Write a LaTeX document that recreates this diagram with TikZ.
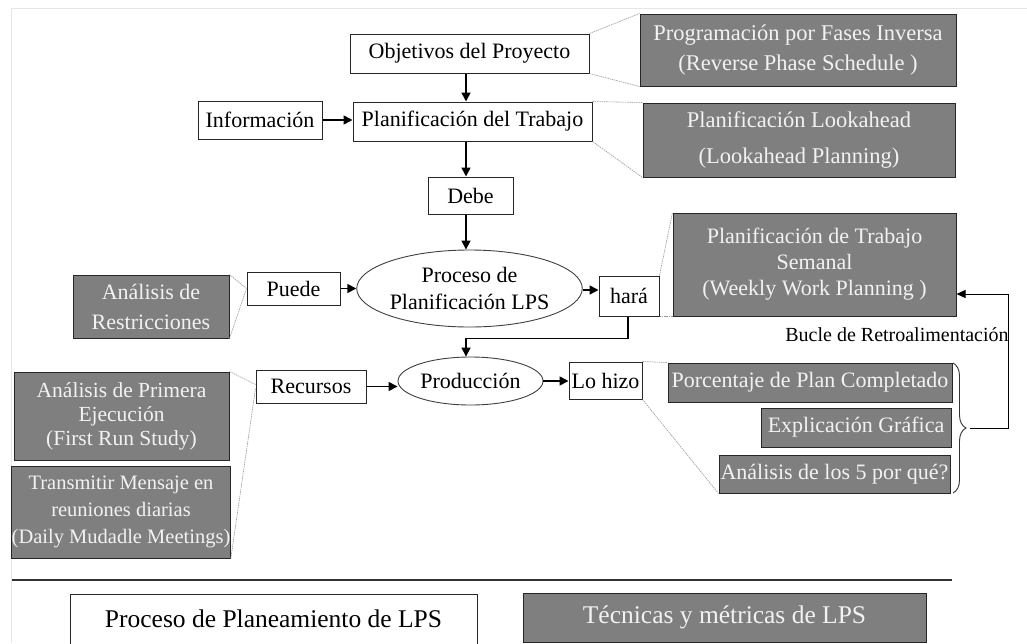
\documentclass[tikz,border=0pt]{standalone}
\usepackage{fontspec}
\setmainfont{Liberation Serif}
\usetikzlibrary{arrows.meta,shapes.geometric,decorations.pathreplacing}
\definecolor{boxgray}{HTML}{7F7F7F}
\definecolor{boxline}{HTML}{262626}
\definecolor{lighttext}{HTML}{F2F2F2}
\definecolor{linkgray}{HTML}{9A9A9A}
\definecolor{framegray}{HTML}{E6E6E6}
\begin{document}
\begin{tikzpicture}[x=1pt,y=-1pt,
  wbox/.style={draw=boxline, line width=1pt, fill=white, rectangle, inner sep=0pt,
    align=center, text=black, font=\fontsize{22}{26}\selectfont},
  gbox/.style={draw=boxline, line width=1pt, fill=boxgray, rectangle, inner sep=0pt,
    align=center, text=lighttext, font=\fontsize{22}{27}\selectfont},
  oval/.style={draw=black!75, line width=0.9pt, fill=white, ellipse, inner sep=0pt,
    align=center, font=\fontsize{22}{27}\selectfont},
  flow/.style={line width=1.6pt, -{Triangle[length=9pt,width=9pt]}},
  loop/.style={line width=1pt, -{Triangle[length=9pt,width=8pt]}},
  link/.style={draw=linkgray, line width=0.6pt, dash pattern=on 1.5pt off 0.8pt},
  wsize/.style 2 args={minimum width=#1pt, minimum height=#2pt}]

\useasboundingbox (0,0) rectangle (1027,643);
\fill[white] (0,0) rectangle (1027,643);
% faint page frame
\draw[framegray, line width=1pt] (11,643) -- (11,8) -- (1027,8);

% ---- planning process (white boxes and ovals)
\node[wbox, wsize={239}{39}] (obj) at (469.5,53.5) {Objetivos del Proyecto};
\node[wbox, wsize={124}{38}] (info) at (260,120) {Información};
\node[wbox, wsize={239}{39}] (plan) at (472.5,121.5) {Planificación del Trabajo};
\node[wbox, wsize={85}{37}] (debe) at (470.5,195.5) {Debe};
\node[oval, wsize={199}{77}] (proc) at (469.5,288.5) {Proceso de\\Planificación LPS};
\node[wbox, wsize={93}{33}] (puede) at (293.5,288.5) {Puede};
\node[wbox, wsize={60}{40}] (hara) at (629,296) {hará};
\node[oval, wsize={145}{48}] (prod) at (470.5,381) {Producción};
\node[wbox, wsize={110}{33}] (rec) at (311,386.5) {Recursos};
\node[wbox, wsize={73}{37}] (hizo) at (605.5,380.5) {Lo hizo};

% ---- techniques and metrics (grey boxes)
\node[gbox, wsize={316}{72}, font=\fontsize{22.5}{30}\selectfont] (prog) at (798,50)
  {Programación por Fases Inversa\\(Reverse Phase Schedule )};
\node[gbox, wsize={312}{74}, font=\fontsize{22.5}{36}\selectfont] (look) at (799,140)
  {Planificación Lookahead\\(Lookahead Planning)};
\node[gbox, wsize={283}{103}, font=\fontsize{22}{26}\selectfont] (sem) at (814.5,264.5)
  {Planificación de Trabajo\\Semanal\\(Weekly Work Planning )};
\node[gbox, wsize={156}{63}, font=\fontsize{22}{30}\selectfont] (restr) at (151,306.5)
  {Análisis de\\Restricciones};
\node[gbox, wsize={215}{88}, font=\fontsize{21.5}{24}\selectfont] (first) at (121.5,416)
  {Análisis de Primera\\Ejecución\\(First Run Study)};
\node[gbox, wsize={214}{92}, font=\fontsize{20.5}{27}\selectfont] (trans) at (121,512)
  {Transmitir Mensaje en\\reuniones diarias\\(Daily Mudadle Meetings)};
\node[gbox, wsize={284}{39}] (porc) at (810,382.5) {Porcentaje de Plan Completado};
\node[gbox, wsize={190}{39}] (expl) at (856,427.5) {Explicación Gráfica};
\node[gbox, wsize={231}{38}] (cinco) at (834.5,474) {Análisis de los 5 por qué?};

% ---- main flow
\draw[flow] ([xshift=-3.5pt]obj.south) -- ([xshift=-3.5pt]obj.south |- plan.north);
\draw[flow] (info.east) -- (info.east -| plan.west);
\draw[flow] ([xshift=-4.5pt]debe.north |- plan.south) -- ([xshift=-4.5pt]debe.north);
\draw[flow] ([xshift=-4.5pt]debe.south) -- ([xshift=-4.5pt]debe.south |- proc.north);
\draw[flow] (puede.east) -- (puede.east -| proc.west);
\draw[flow] ([yshift=-1.5pt]proc.east) -- ([yshift=-1.5pt]proc.east -| hara.west);
\draw[flow] ([xshift=-1pt]hara.south) -- ++(0,22) -| ([xshift=-4.5pt]prod.north);
\draw[flow] (rec.east) -- (rec.east -| prod.west);
\draw[flow] (prod.east) -- (prod.east -| hizo.west);

% ---- links from the process steps to their techniques
\draw[link] (obj.north east) -- (prog.north west);
\draw[link] (obj.south east) -- (prog.south west);
\draw[link] (plan.north east) -- (look.north west);
\draw[link] (plan.south east) -- (look.south west);
\draw[link] (hara.north east) -- (sem.north west);
\draw[link] (hara.south east) -- (sem.south west);
\draw[link] (restr.north east) -- (puede.west);
\draw[link] (restr.south east) -- (puede.west);
\draw[link] (first.north east) -- ([yshift=2pt]rec.west);
\draw[link] (trans.south east) -- ([yshift=-2pt]rec.west);
\draw[link] (hizo.north east) -- (porc.north west);
\draw[link] (hizo.south east) -- (cinco.south west);

% ---- feedback loop
\coordinate (bracetop) at (953,363);
\coordinate (bracebot) at (953,493);
\draw[black!80, line width=0.9pt, decorate, decoration={brace, amplitude=13pt}]
  (bracetop) -- (bracebot);
\coordinate (fbtip) at (970,428);
\coordinate (fbcorner) at (1008,294);
\draw[loop] (fbtip) -- (fbtip -| fbcorner) -- (fbcorner) -- (fbcorner -| sem.east);
\node[font=\fontsize{20}{24}\selectfont, anchor=center, inner sep=0pt] (bucle) at (897,335)
  {Bucle de Retroalimentación};

% ---- separator and legend
\draw[black!80, line width=2pt] (12,580) -- (952,580);
\node[wbox, wsize={407}{50}, font=\fontsize{25.5}{30}\selectfont] (leg1) at (273.5,619)
  {Proceso de Planeamiento de LPS};
\node[gbox, wsize={403}{49}, font=\fontsize{25.5}{30}\selectfont] (leg2) at (724.5,617.5)
  {Técnicas y métricas de LPS};
\end{tikzpicture}
\end{document}
